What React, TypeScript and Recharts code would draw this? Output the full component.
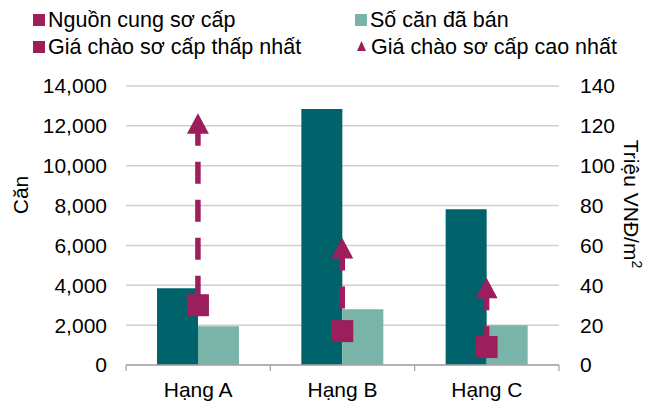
import React from "react";
import {
  ComposedChart,
  Bar,
  XAxis,
  YAxis,
  CartesianGrid,
} from "recharts";

const categories = ["Hạng A", "Hạng B", "Hạng C"];
const supply = [3850, 12850, 7820];
const sold = [1950, 2800, 2000];
const minPrice = [30, 17, 9];
const maxPrice = [121, 58.5, 38.5];

const unitTicks = [0, 2000, 4000, 6000, 8000, 10000, 12000, 14000];
const priceTicks = [0, 20, 40, 60, 80, 100, 120, 140];

const DARK = "#00636C";
const LIGHT = "#7AB3A8";
const MAGENTA = "#9C1E5D";
const FONT = "'Liberation Sans', Arial, sans-serif";

const W = 670;
const H = 403;
const LEFT_W = 126;
const RIGHT_W = 111;
const HALF_BAND = (W - LEFT_W - RIGHT_W) / categories.length / 2;

const data = categories.map((cat, i) => ({
  cat,
  supply: supply[i],
  sold: sold[i],
  range: [minPrice[i], maxPrice[i]],
}));

function XTick(props: any) {
  const { x, y, payload, index } = props;
  return (
    <g>
      <line x1={x - HALF_BAND} y1={y} x2={x - HALF_BAND} y2={y + 6} stroke="#a6a6a6" strokeWidth={1.3} />
      {index === categories.length - 1 && (
        <line x1={x + HALF_BAND} y1={y} x2={x + HALF_BAND} y2={y + 6} stroke="#a6a6a6" strokeWidth={1.3} />
      )}
      <text x={x} y={y + 32} textAnchor="middle" fontSize={21} fill="#000" fontFamily={FONT}>
        {payload.value}
      </text>
    </g>
  );
}

function PriceRange(props: any) {
  const { x, y, width, height } = props;
  const cx = x + width / 2;
  const top = Math.min(y, y + height);
  const bottom = Math.max(y, y + height);
  return (
    <g>
      <line
        x1={cx}
        y1={top}
        x2={cx}
        y2={bottom}
        stroke={MAGENTA}
        strokeWidth={5.5}
        strokeDasharray="22 16"
      />
      <rect x={cx - 11} y={bottom - 11} width={22} height={22} fill={MAGENTA} />
      <path d={`M${cx},${top - 10.5} L${cx + 11},${top + 10} L${cx - 11},${top + 10} Z`} fill={MAGENTA} />
    </g>
  );
}

const legendItems = [
  { label: "Nguồn cung sơ cấp", color: MAGENTA, icon: "square", x: 33, y: 20 },
  { label: "Số căn đã bán", color: LIGHT, icon: "square", x: 355, y: 20 },
  { label: "Giá chào sơ cấp thấp nhất", color: MAGENTA, icon: "square", x: 33, y: 47 },
  { label: "Giá chào sơ cấp cao nhất", color: MAGENTA, icon: "triangle", x: 355, y: 47 },
];

export default function App() {
  return (
    <div
      style={{
        position: "absolute",
        left: 0,
        top: 0,
        width: W,
        height: H,
        background: "#fff",
        fontFamily: FONT,
      }}
    >
      {legendItems.map((it) => (
        <div
          key={it.label}
          style={{
            position: "absolute",
            left: it.x,
            top: it.y - 13,
            height: 26,
            display: "flex",
            alignItems: "center",
            fontSize: 21.5,
            color: "#000",
            whiteSpace: "nowrap",
          }}
        >
          {it.icon === "square" ? (
            <span style={{ width: 12, height: 12, background: it.color, marginRight: 3, flexShrink: 0 }} />
          ) : (
            <svg width={13} height={12} style={{ marginRight: 3, flexShrink: 0 }}>
              <path d="M6.5,0 L11,10 L2,10 Z" fill={it.color} />
            </svg>
          )}
          {it.label}
        </div>
      ))}

      <div
        style={{
          position: "absolute",
          left: 21,
          top: 195,
          transform: "translate(-50%, -50%) rotate(-90deg)",
          fontSize: 21,
          whiteSpace: "nowrap",
        }}
      >
        Căn
      </div>
      <div
        style={{
          position: "absolute",
          left: 632,
          top: 204,
          transform: "translate(-50%, -50%) rotate(90deg)",
          fontSize: 21,
          whiteSpace: "nowrap",
        }}
      >
        Triệu VNĐ/m<sup style={{ fontSize: 14 }}>2</sup>
      </div>

      <ComposedChart
        width={W}
        height={H}
        data={data}
        margin={{ top: 86, right: 0, left: 0, bottom: 0 }}
        barGap={0}
        style={{ position: "absolute", left: 0, top: 0 }}
      >
        <CartesianGrid vertical={false} yAxisId="left" xAxisId="main" stroke="#cfcfcf" strokeWidth={1.5} />
        <XAxis
          xAxisId="main"
          dataKey="cat"
          height={38}
          tickSize={0}
          tickMargin={0}
          tickLine={false}
          axisLine={{ stroke: "#a6a6a6", strokeWidth: 1.3 }}
          tick={<XTick />}
          interval={0}
        />
        <XAxis xAxisId="range" dataKey="cat" hide />
        <YAxis
          yAxisId="left"
          width={LEFT_W}
          domain={[0, 14000]}
          ticks={unitTicks}
          tickFormatter={(v: number) => v.toLocaleString("en-US")}
          axisLine={false}
          tickLine={false}
          tickMargin={13}
          tick={{ fontSize: 21, fill: "#000", fontFamily: FONT }}
        />
        <YAxis
          yAxisId="right"
          orientation="right"
          width={RIGHT_W}
          domain={[0, 140]}
          ticks={priceTicks}
          axisLine={false}
          tickLine={false}
          tickMargin={15}
          tick={{ fontSize: 21, fill: "#000", fontFamily: FONT }}
        />
        <Bar xAxisId="main" yAxisId="left" dataKey="supply" fill={DARK} barSize={41} isAnimationActive={false} />
        <Bar xAxisId="main" yAxisId="left" dataKey="sold" fill={LIGHT} barSize={41} isAnimationActive={false} />
        <Bar
          xAxisId="range"
          yAxisId="right"
          dataKey="range"
          shape={<PriceRange />}
          isAnimationActive={false}
        />
      </ComposedChart>
    </div>
  );
}
